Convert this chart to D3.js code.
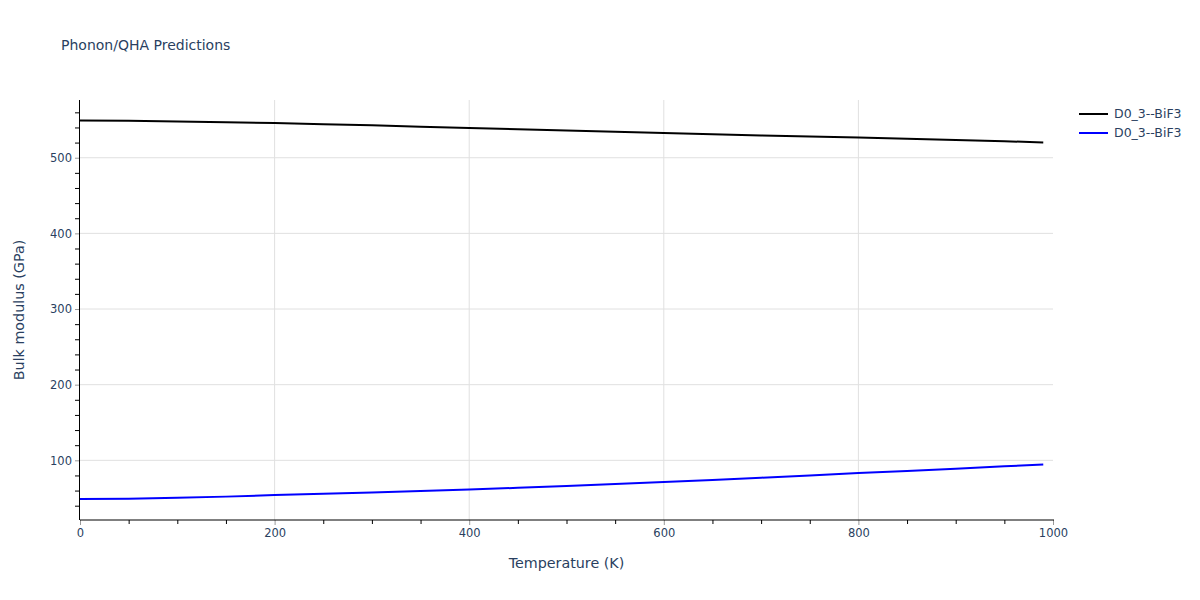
<!DOCTYPE html>
<html><head><meta charset="utf-8">
<script src="https://cdn.jsdelivr.net/npm/d3@7"></script>
<style>body{margin:0;background:#fff;} text{font-family:"DejaVu Sans",Verdana,sans-serif;}</style>
</head><body><svg id="c" width="1200" height="600"></svg>
<script>
const temps = [0,50,100,150,200,250,300,350,400,450,500,550,600,650,700,750,800,850,900,950,990];
const bulkBlack = [549.2,549.0,548.0,547.0,545.9,544.3,542.8,541.0,539.3,537.6,536.0,534.3,532.6,531.0,529.5,528.0,526.7,525.0,523.5,521.8,520.1];
const bulkBlue = [48.9,49.2,50.5,52.0,54.0,55.8,57.6,59.5,61.4,63.6,66.0,68.6,71.3,74.0,77.0,80.0,83.2,86.0,89.0,92.0,94.6];
const seriesNames = ["D0_3--BiF3","D0_3--BiF3"];
const seriesColors = ["#000000","#0000ff"];
const xTicks = [0,200,400,600,800,1000];
const yTicks = [100,200,300,400,500];

const svg = d3.select("#c");
const L=80,R=1053,T=100,B=520;
const x = d3.scaleLinear().domain([0,1000]).range([L,R]);
const y = d3.scaleLinear().domain([21.1,576.3]).range([B,T]);
const txt="#2a3f5f";

// grid
svg.append("g").selectAll("line").data(xTicks.filter(d=>d>0&&d<1000)).join("line")
  .attr("x1",d=>x(d)).attr("x2",d=>x(d)).attr("y1",T).attr("y2",B).attr("stroke","#e0e0e0");
svg.append("g").selectAll("line").data(yTicks).join("line")
  .attr("x1",L).attr("x2",R).attr("y1",d=>y(d)).attr("y2",d=>y(d)).attr("stroke","#e0e0e0");

// minor ticks
const xMinor = d3.range(50,1000,50).filter(d=>!xTicks.includes(d));
svg.append("g").call(d3.axisBottom(x).tickValues(xMinor).tickSize(4).tickFormat(""))
  .attr("transform",`translate(0,${B})`).call(g=>g.select(".domain").remove())
  .selectAll("line").attr("stroke","#000");
const yMinor = d3.range(40,580,20).filter(d=>!yTicks.includes(d));
svg.append("g").call(d3.axisLeft(y).tickValues(yMinor).tickSize(5).tickFormat(""))
  .attr("transform",`translate(${L},0)`).call(g=>g.select(".domain").remove())
  .selectAll("line").attr("stroke","#000");

// major axes
const xa = svg.append("g").attr("transform",`translate(0,${B})`)
  .call(d3.axisBottom(x).tickValues(xTicks).tickSize(5).tickPadding(4).tickFormat(d3.format("d")));
xa.select(".domain").remove();
xa.selectAll("line").attr("stroke","#999");
xa.selectAll("text").attr("fill",txt).attr("font-size",11.5).attr("font-family","DejaVu Sans");
const ya = svg.append("g").attr("transform",`translate(${L},0)`)
  .call(d3.axisLeft(y).tickValues(yTicks).tickSize(5).tickPadding(3).tickFormat(d3.format("d")));
ya.select(".domain").remove();
ya.selectAll("line").attr("stroke","#999");
ya.selectAll("text").attr("fill",txt).attr("font-size",11.5).attr("font-family","DejaVu Sans");

svg.append("line").attr("x1",L).attr("x2",R+1).attr("y1",B).attr("y2",B).attr("stroke","#000");
svg.append("line").attr("x1",L-0.5).attr("x2",L-0.5).attr("y1",T).attr("y2",B).attr("stroke","#000");

// lines
const line = d3.line().x((d,i)=>x(temps[i])).y(d=>y(d));
[bulkBlack,bulkBlue].forEach((s,k)=>{
  svg.append("path").datum(s).attr("d",line).attr("fill","none")
    .attr("stroke",seriesColors[k]).attr("stroke-width",2);
});

// legend
seriesNames.forEach((n,k)=>{
  const yy=114+k*19;
  svg.append("line").attr("x1",1079).attr("x2",1108).attr("y1",yy).attr("y2",yy)
    .attr("stroke",seriesColors[k]).attr("stroke-width",2);
  svg.append("text").attr("x",1114).attr("y",yy+4).attr("fill",txt).attr("font-size",12.5).text(n);
});

// titles
svg.append("text").attr("x",61).attr("y",50).attr("fill",txt).attr("font-size",14).text("Phonon/QHA Predictions");
svg.append("text").attr("x",(L+R)/2).attr("y",568).attr("text-anchor","middle").attr("fill",txt).attr("font-size",14.3).text("Temperature (K)");
svg.append("text").attr("transform",`translate(24,${(T+B)/2}) rotate(-90)`).attr("text-anchor","middle")
  .attr("fill",txt).attr("font-size",14.3).text("Bulk modulus (GPa)");
</script></body></html>
